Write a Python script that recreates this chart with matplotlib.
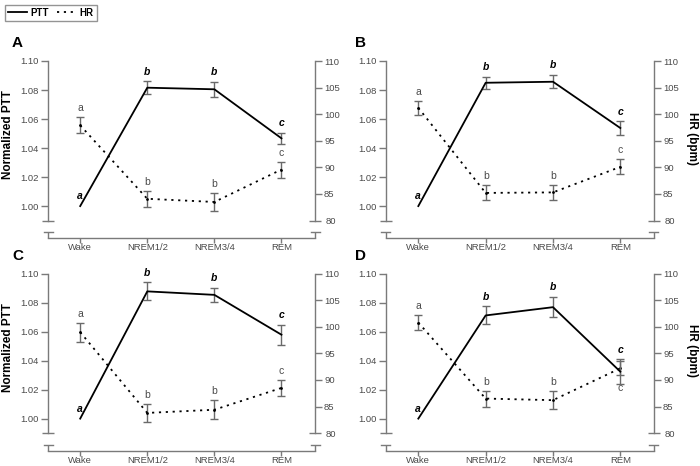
import numpy as np
import matplotlib
matplotlib.use("Agg")
import matplotlib.pyplot as plt
from matplotlib.lines import Line2D

plt.rcParams['font.family'] = ['Liberation Sans', 'DejaVu Sans']

categories = ["Wake", "NREM1/2", "NREM3/4", "REM"]
panel_names = ["A", "B", "C", "D"]

ptt_A = [1.000, 1.0816, 1.0805, 1.0467]
ptt_err_A = [0.0, 0.0043, 0.0050, 0.0037]
hr_A = [97.9, 84.1, 83.5, 89.6]
hr_err_A = [1.5, 1.5, 1.7, 1.5]

ptt_B = [1.000, 1.0850, 1.0857, 1.0538]
ptt_err_B = [0.0, 0.0043, 0.0045, 0.0046]
hr_B = [101.2, 85.2, 85.3, 90.1]
hr_err_B = [1.3, 1.4, 1.4, 1.4]

ptt_C = [1.000, 1.0878, 1.0854, 1.0579]
ptt_err_C = [0.0, 0.0062, 0.0050, 0.0068]
hr_C = [99.0, 83.8, 84.4, 88.5]
hr_err_C = [1.8, 1.7, 1.75, 1.5]

ptt_D = [1.000, 1.0712, 1.0769, 1.0324]
ptt_err_D = [0.0, 0.0062, 0.0069, 0.0084]
hr_D = [100.8, 86.5, 86.2, 92.2]
hr_err_D = [1.4, 1.5, 1.7, 1.3]

ptt_letters = ["a", "b", "b", "c"]
hr_letters = ["a", "b", "b", "c"]
# +1 = letter above error bar, -1 = below
hr_letter_side_A = [1, 1, 1, 1]
hr_letter_side_B = [1, 1, 1, 1]
hr_letter_side_C = [1, 1, 1, 1]
hr_letter_side_D = [1, 1, 1, -1]

left_ticks = [1.00, 1.02, 1.04, 1.06, 1.08, 1.10]
right_ticks = [85, 90, 95, 100, 105, 110]

panels = [
    (ptt_A, ptt_err_A, hr_A, hr_err_A, hr_letter_side_A),
    (ptt_B, ptt_err_B, hr_B, hr_err_B, hr_letter_side_B),
    (ptt_C, ptt_err_C, hr_C, hr_err_C, hr_letter_side_C),
    (ptt_D, ptt_err_D, hr_D, hr_err_D, hr_letter_side_D),
]

W, H = 700, 466
fig = plt.figure(figsize=(7, 4.66), dpi=100)

spine_c = "#7a7a7a"
tick_lbl_c = "#4a4a4a"
err_c = "#6a6a6a"
TS = 6.8

# pixel layout: (left, right, top(1.10), bottom(x-axis line))
layouts = [(48, 315, 61, 238), (386, 654, 61, 238),
           (48, 315, 273.7, 450.5), (386, 654, 273.7, 450.5)]

L_lo, L_hi = 0.978, 1.10
def to_right(v):
    return 80 + (v - 0.99) * 30 / 0.11

x = np.arange(len(categories))
dotted = (0, (1.2, 2.6))

for i, (ptt, perr, hr, herr, hside) in enumerate(panels):
    l, r, t, b = layouts[i]
    ax = fig.add_axes([l / W, 1 - b / H, (r - l) / W, (b - t) / H])
    ax2 = ax.twinx()
    ax.set_zorder(ax2.get_zorder() + 1)
    ax.patch.set_visible(False)

    ax.set_xlim(-0.48, 3.5)
    ax.set_ylim(L_lo, L_hi)
    ax2.set_ylim(to_right(L_lo), to_right(L_hi))

    for s in ["top", "right"]:
        ax.spines[s].set_visible(False)
    for s in ["top", "left", "bottom"]:
        ax2.spines[s].set_visible(False)
    ax.spines["left"].set_bounds(0.99, 1.10)
    ax2.spines["right"].set_bounds(80, 110)
    for sp in [ax.spines["left"], ax.spines["bottom"], ax2.spines["right"]]:
        sp.set_color(spine_c)
        sp.set_linewidth(1.0)

    ax.set_yticks(left_ticks, labels=[f"{v:.2f}" for v in left_ticks])
    ax.set_yticks([0.99], minor=True)
    ax.tick_params(axis="y", which="major", direction="out", length=5, width=1.0,
                   color=spine_c, labelcolor=tick_lbl_c, labelsize=TS, pad=1.5)
    ax.tick_params(axis="y", which="minor", direction="inout", length=9, width=1.0,
                   color=spine_c)
    ax2.set_yticks(right_ticks, labels=[str(v) for v in right_ticks])
    ax2.set_yticks([80], labels=["80"], minor=True)
    ax2.tick_params(axis="y", which="major", direction="out", length=5, width=1.0,
                    color=spine_c, labelcolor=tick_lbl_c, labelsize=TS, pad=1.5)
    ax2.tick_params(axis="y", which="minor", direction="inout", length=9, width=1.0,
                    color=spine_c, labelcolor=tick_lbl_c, labelsize=TS, pad=3)
    ax.set_xticks(x, labels=categories)
    ax.tick_params(axis="x", direction="out", length=3.5, width=1.0, color=spine_c,
                   labelcolor=tick_lbl_c, labelsize=TS, pad=0.3)

    # axis break stubs
    hpx = b - t
    wpx = r - l
    stub = 6 / hpx
    half = 4.5 / wpx
    for xa in (0, 1):
        ax.plot([xa, xa], [0, stub], color=spine_c, lw=1.0, transform=ax.transAxes,
                clip_on=False, solid_capstyle="butt")
        ax.plot([xa - half, xa + half], [stub, stub], color=spine_c, lw=1.0,
                transform=ax.transAxes, clip_on=False)

    # HR (right axis) dotted
    ax2.plot(x, hr, color="black", lw=1.3, linestyle=dotted,
             marker="o", markersize=1.0, zorder=3)
    ax2.errorbar(x, hr, yerr=herr, fmt="none", ecolor=err_c, elinewidth=1.0,
                 capsize=3, capthick=1.0, zorder=2)

    # PTT (left axis) solid
    ax.plot(x, ptt, color="black", lw=1.3, zorder=3)
    m = np.array(perr) > 0
    ax.errorbar(x[m], np.array(ptt)[m], yerr=np.array(perr)[m], fmt="none",
                ecolor=err_c, elinewidth=1.0, capsize=3, capthick=1.0, zorder=2)

    # letters
    for j in range(len(categories)):
        ax.annotate(ptt_letters[j], (x[j], ptt[j] + perr[j]), xytext=(0, 7),
                    textcoords="offset points", ha="center", va="center",
                    fontsize=7.5, fontweight="bold", fontstyle="italic", color="black")
        if hside[j] > 0:
            ax2.annotate(hr_letters[j], (x[j], hr[j] + herr[j]), xytext=(0, 6.5),
                         textcoords="offset points", ha="center", va="center",
                         fontsize=7.5, color=tick_lbl_c)
        else:
            ax2.annotate(hr_letters[j], (x[j], hr[j] - herr[j]), xytext=(0, -9),
                         textcoords="offset points", ha="center", va="center",
                         fontsize=7.5, color=tick_lbl_c)

    # panel letter
    fig.text((12 if i % 2 == 0 else 355) / W, 1 - (t - 18) / H, panel_names[i],
             fontsize=11, fontweight="bold", ha="left", va="center")

    if i % 2 == 0:
        fig.text(8 / W, 1 - (t + 74) / H, "Normalized PTT", rotation=90,
                 fontsize=8.5, fontweight="bold", ha="center", va="center")
    else:
        fig.text(692 / W, 1 - (t + 77) / H, "HR (bpm)", rotation=270,
                 fontsize=8.5, fontweight="bold", ha="center", va="center")

handles = [Line2D([], [], color="black", lw=1.3),
           Line2D([], [], color="black", lw=1.3, linestyle=dotted)]
leg = fig.legend(handles, ["PTT", "HR"], loc="upper left", bbox_to_anchor=(0, 1),
                 ncol=2, frameon=True, fancybox=False, handlelength=2.0,
                 handletextpad=0.3, columnspacing=0.9, borderpad=0.3,
                 prop={"weight": "bold", "size": 7})
leg.get_frame().set_edgecolor(spine_c)
leg.get_frame().set_linewidth(1.0)

fig.savefig("out.png", dpi=100)
